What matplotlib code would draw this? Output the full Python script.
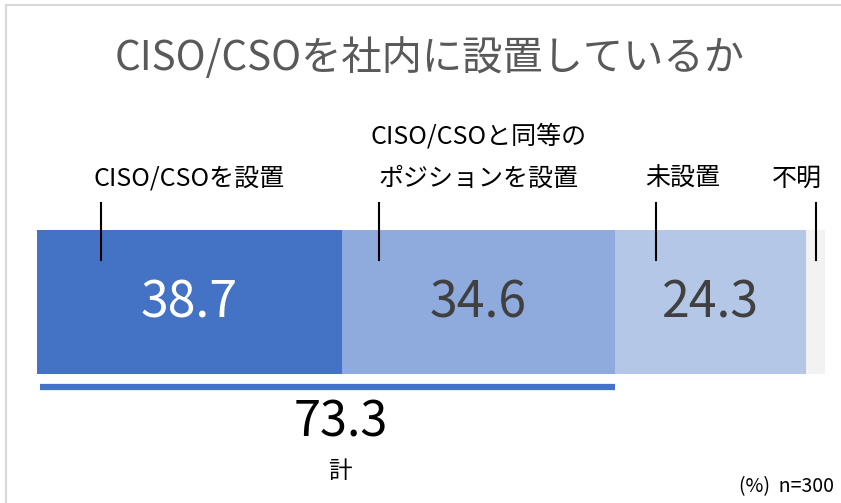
import matplotlib
matplotlib.use("Agg")
import matplotlib.pyplot as plt
from matplotlib.lines import Line2D

plt.rcParams["font.family"] = ["Noto Sans CJK JP", "DejaVu Sans"]

# データ
title = "CISO/CSOを社内に設置しているか"
categories = ["CISO/CSOを設置", "CISO/CSOと同等の\nポジションを設置", "未設置", "不明"]
values = [38.7, 34.6, 24.3, 2.4]
total_label = "計"
total_value = 73.3
note = "(%)  n=300"

# スタイル
colors = ["#4472C4", "#8FAADC", "#B4C7E7", "#F2F2F2"]
value_colors = ["white", "#404040", "#404040", None]
leader_x = [8.1, 43.4, 78.5, 98.9]  # 引き出し線の位置 [%]
label_x = [19.3, 56.0, 82.0, 96.4]

W, H = 841, 503
fig = plt.figure(figsize=(W / 100, H / 100), dpi=100)
ax = fig.add_axes([0, 0, 1, 1])
px = 7.88  # 1% あたりのピクセル
ax.set_xlim(-37 / px, (W - 37) / px)
ax.set_ylim(H, 0)
ax.axis("off")

# 積み上げ棒
left = 0
for v, c, tc in zip(values, colors, value_colors):
    ax.barh(302, v, left=left, height=144, color=c, edgecolor="none")
    if tc is not None:
        ax.text(left + v / 2, 303, f"{v:.1f}", color=tc, fontsize=36,
                ha="center", va="center")
    left += v

# 引き出し線とラベル
for lx, tx, cat in zip(leader_x, label_x, categories):
    ax.plot([lx, lx], [203, 260], color="black", lw=1.5)
    ax.text(tx, 192, cat, fontsize=18, ha="center", va="bottom",
            color="black", linespacing=1.8)

# 合計
ax.plot([0.4, total_value], [386.5, 386.5], color="#4472C4", lw=4.5,
        solid_capstyle="butt")
ax.text(38.5, 423, f"{total_value:.1f}", fontsize=35, ha="center",
        va="center", color="black")
ax.text(38.5, 471, total_label, fontsize=17, ha="center", va="center",
        color="black")
fig.text(834 / W, 1 - 487 / H, note, fontsize=14, ha="right", va="center",
         color="black")

# タイトル
fig.text(430 / W, 1 - 58 / H, title, fontsize=29, ha="center", va="center",
         color="#595959")

# 枠線
fig.add_artist(Line2D([6 / W, 6 / W], [0, 1 - 5 / H], color="#D9D9D9", lw=1.5))
fig.add_artist(Line2D([6 / W, 1], [1 - 5 / H, 1 - 5 / H], color="#D9D9D9", lw=1.5))

fig.savefig("out.png", dpi=100)
